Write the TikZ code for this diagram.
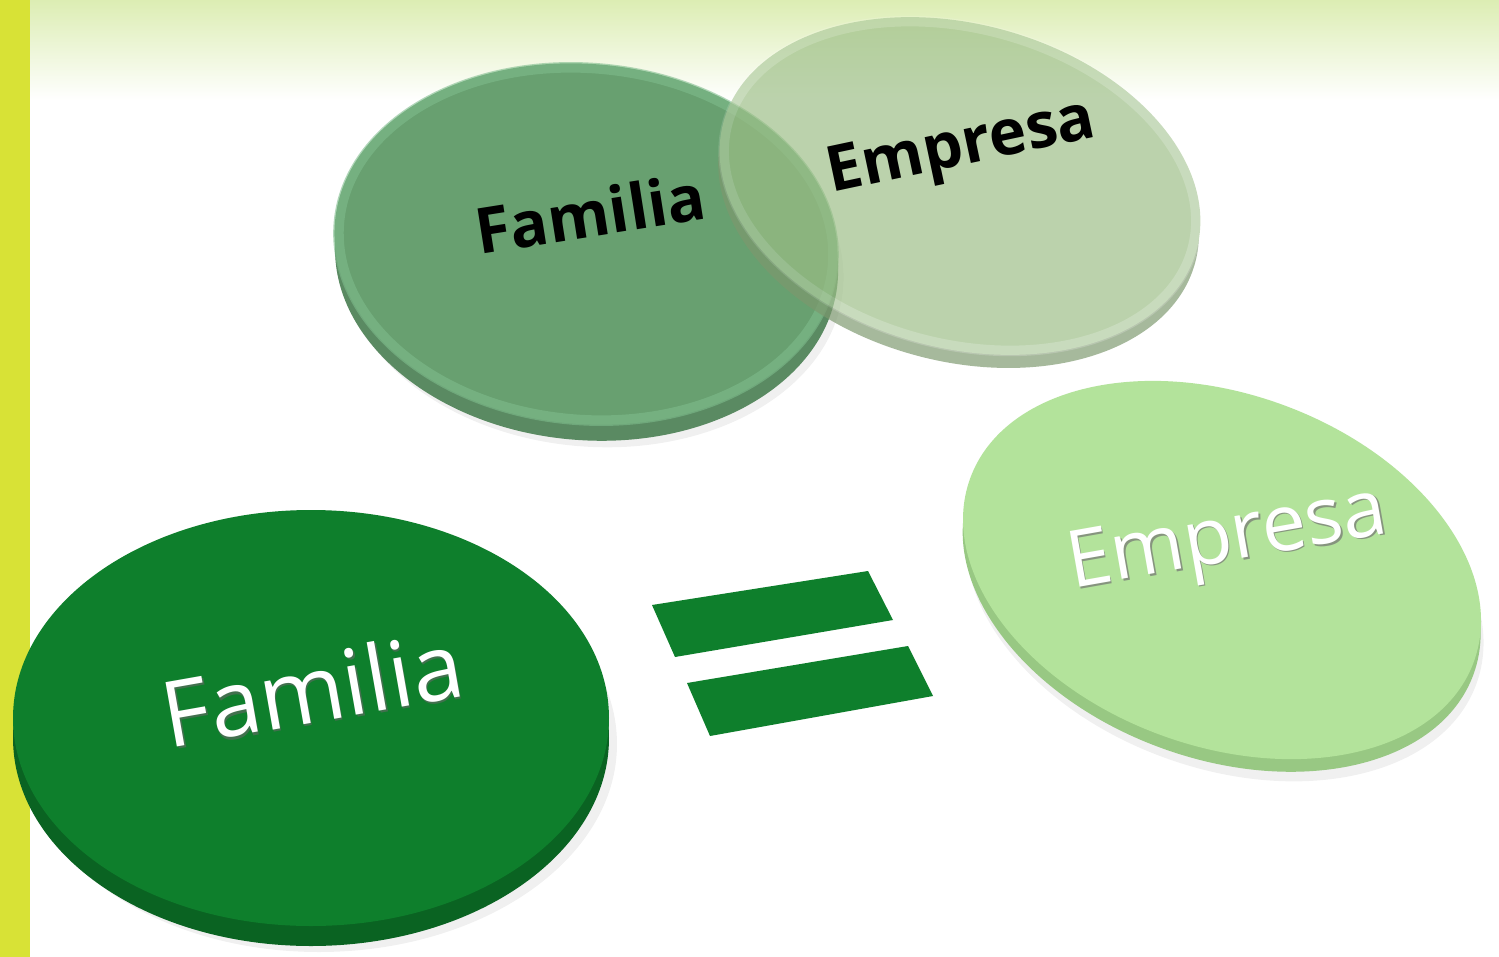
\documentclass[tikz,border=0pt]{standalone}
\usepackage{fontspec}
\setmainfont{Open Sans}
\begin{document}
\begin{tikzpicture}[x=0.01cm,y=-0.01cm]
\definecolor{barYG}{HTML}{D8E236}
\definecolor{topG}{HTML}{DCEDB3}
\definecolor{tlFace}{HTML}{68A070}
\definecolor{tlSide}{HTML}{5A8A62}
\definecolor{tlRim}{HTML}{7EBC8C}
\definecolor{trFace}{RGB}{156,190,134}
\definecolor{trSide}{RGB}{125,152,110}
\definecolor{dkFace}{HTML}{0E7F2C}
\definecolor{dkSide}{HTML}{0A6322}
\definecolor{ltFace}{HTML}{B3E39B}
\definecolor{ltSide}{HTML}{98C883}
\tikzset{
  lbl/.style={inner sep=0pt, font=\fontsize{18}{20}\selectfont\bfseries, text=black},
  biglbl/.style={inner sep=0pt, font=\fontsize{26}{30}\selectfont, text=white},
  shadowdisc/.style={fill=black, opacity=0.06},
}
\useasboundingbox (0,0) rectangle (1499,957);
\fill[white] (0,0) rectangle (1499,957);
\shade[top color=topG, bottom color=white] (30,0) rectangle (1499,100);
\fill[barYG] (0,0) rectangle (30,957);

% top-left disc (Familia)
\coordinate (tl) at (586,244);
\fill[shadowdisc, rotate around={-5:(tl)}] ([shift={(8,22)}]tl) ellipse [x radius=252, y radius=180];
\fill[tlSide, rotate around={-5:(tl)}] ([shift={(2,16)}]tl) ellipse [x radius=252, y radius=180];
\fill[tlFace, rotate around={-5:(tl)}] (tl) ellipse [x radius=252, y radius=180];
\draw[tlRim, opacity=0.6, line width=3pt, rotate around={-5:(tl)}] (tl) ellipse [x radius=248, y radius=176];

% top-right disc (Empresa), translucent
\coordinate (tr) at (960,186);
\begin{scope}[opacity=0.68, transparency group]
\fill[trSide, rotate around={-15:(tr)}] ([shift={(2,13)}]tr) ellipse [x radius=245, y radius=162];
\fill[trFace, rotate around={-15:(tr)}] (tr) ellipse [x radius=245, y radius=162];
\draw[white, opacity=0.2, line width=3pt, rotate around={-15:(tr)}] (tr) ellipse [x radius=241, y radius=158];
\end{scope}

\node[lbl, rotate=9] (famTop) at (590,213) {Familia};
\node[lbl, rotate=12] (empTop) at (962,150) {Empresa};

% bottom-left disc (Familia)
\coordinate (bl) at (311,718);
\fill[shadowdisc] ([shift={(8,26)}]bl) ellipse [x radius=298, y radius=208];
\fill[dkSide] ([shift={(0,20)}]bl) ellipse [x radius=298, y radius=208];
\fill[dkFace] (bl) ellipse [x radius=298, y radius=208];
\node[biglbl, rotate=10, text=black!60, opacity=0.6] at (313.5,690.5) {Familia};
\node[biglbl, rotate=10] (famBot) at (312,688) {Familia};

% equals sign
\fill[dkFace] (652,605) -- (868,571) -- (893,620) -- (675,657) -- cycle;
\fill[dkFace] (687,683) -- (908,646) -- (933,696) -- (710,736) -- cycle;

% bottom-right disc (Empresa)
\coordinate (br) at (1222,570);
\fill[shadowdisc, rotate around={-20:(br)}] ([shift={(10,20)}]br) ellipse [x radius=268, y radius=176];
\fill[ltSide, rotate around={-20:(br)}] ([shift={(4,12)}]br) ellipse [x radius=268, y radius=176];
\fill[ltFace, rotate around={-20:(br)}] (br) ellipse [x radius=268, y radius=176];
\node[biglbl, font=\fontsize{22.5}{26}\selectfont, rotate=10, text=black!55, opacity=0.7] at (1229.5,543.5) {Empresa};
\node[biglbl, font=\fontsize{22.5}{26}\selectfont, rotate=10] (empBot) at (1228,542) {Empresa};
\end{tikzpicture}
\end{document}
